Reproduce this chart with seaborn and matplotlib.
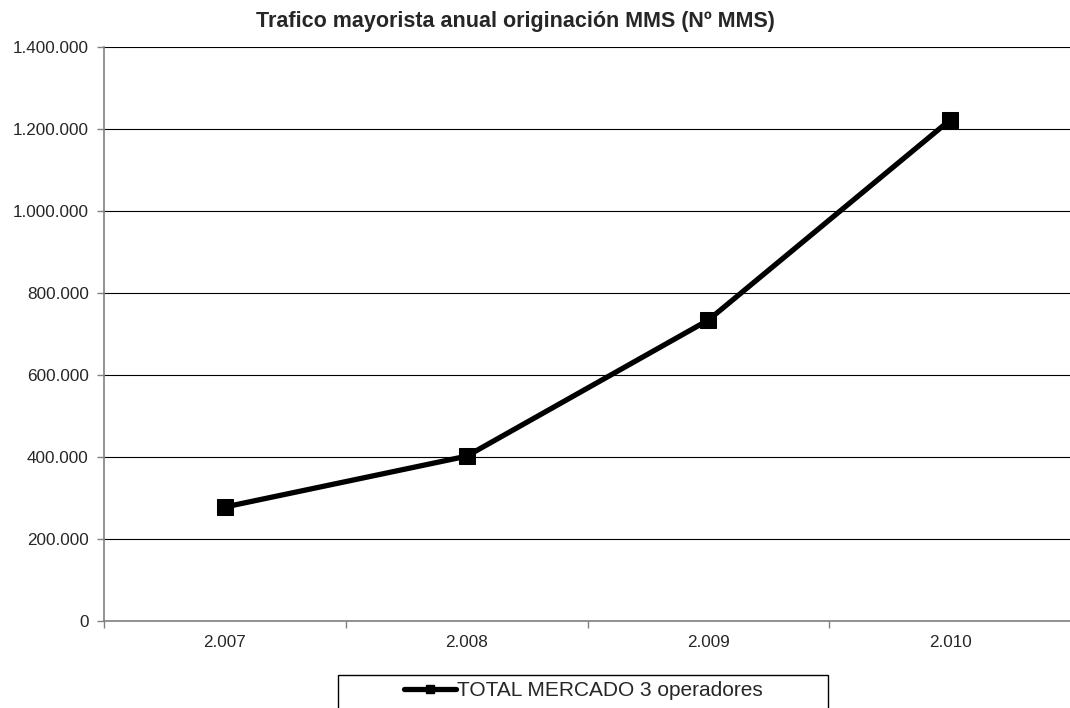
import pandas as pd
import matplotlib
matplotlib.use("Agg")
import matplotlib.pyplot as plt
import matplotlib.patches as mpatches
from matplotlib.lines import Line2D
import seaborn as sns
from matplotlib.ticker import FuncFormatter, FixedLocator

# data
years = ["2.007", "2.008", "2.009", "2.010"]
mms = [278000, 402000, 734000, 1222000]
serie = "TOTAL MERCADO 3 operadores"

df = pd.DataFrame({"year": years, "mms": mms, "serie": serie})

sns.set_style("white")
plt.rcParams["font.family"] = ["Liberation Sans", "DejaVu Sans"]

fig = plt.figure(figsize=(10.7, 7.08), dpi=100)
ax = fig.add_axes([104 / 1070, 1 - 621 / 708, 967 / 1070, 574 / 708])

sns.lineplot(data=df, x="year", y="mms", color="black",
             marker="s", markersize=12, linewidth=3.8, markeredgecolor="black",
             sort=False, ax=ax)

ax.set_ylim(0, 1400000)
ax.set_xlim(-0.5, len(years) - 0.5)
ax.set_yticks(range(0, 1400001, 200000))
ax.yaxis.set_major_formatter(FuncFormatter(lambda v, p: f"{int(v):,}".replace(",", ".")))
ax.grid(axis="y", color="black", linewidth=0.8)
ax.set_axisbelow(True)

# tick marks between categories
ax.xaxis.set_minor_locator(FixedLocator([i - 0.5 for i in range(len(years) + 1)]))
ax.tick_params(axis="x", which="major", length=0, pad=10, labelsize=12.3)
ax.tick_params(axis="x", which="minor", length=5, color="#808080", width=1, bottom=True)
ax.tick_params(axis="y", which="major", length=5, color="#808080", width=1, left=True,
               labelsize=12.3, pad=6)

for s in ["top", "right"]:
    ax.spines[s].set_visible(False)
for s in ["left", "bottom"]:
    ax.spines[s].set_color("#808080")
    ax.spines[s].set_linewidth(1.2)

ax.set_xlabel("")
ax.set_ylabel("")
fig.text(515 / 1070, 1 - 22 / 708, "Trafico mayorista anual originación MMS (Nº MMS)",
         fontsize=15.5, fontweight="bold", ha="center", va="center")

# legend box at the bottom
fig.patches.append(mpatches.Rectangle((338 / 1070, -0.01), 490 / 1070, 33 / 708 + 0.01,
                                      transform=fig.transFigure, fill=False,
                                      edgecolor="black", linewidth=1))
handle = Line2D([], [], color="black", linewidth=3.8, marker="s", markersize=6)
fig.legend([handle], [serie], loc="center", bbox_to_anchor=(583 / 1070, 1 - 691 / 708),
           frameon=False, fontsize=15, handlelength=2.5, handletextpad=0.05,
           borderaxespad=0)

fig.savefig("out.png", dpi=100)
